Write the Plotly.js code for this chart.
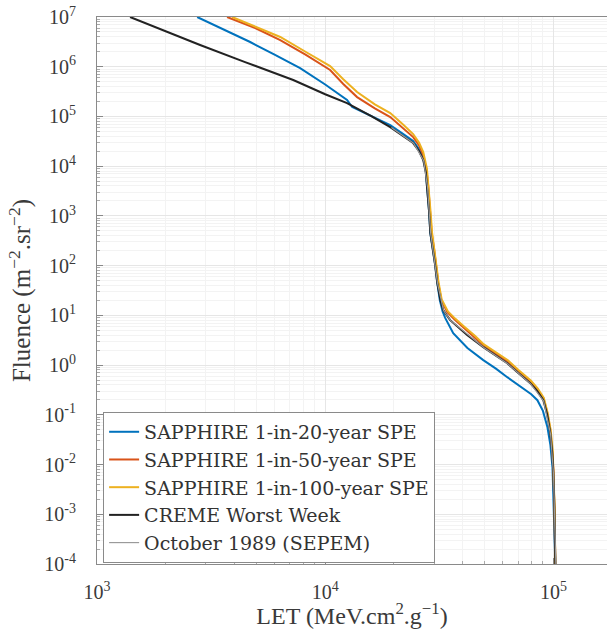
<!DOCTYPE html>
<html>
<head>
<meta charset="utf-8">
<script src="https://cdn.plot.ly/plotly-3.0.1.min.js"></script>
<style>html,body{margin:0;padding:0;background:#fff;overflow:hidden}</style>
</head>
<body>
<div id="chart" style="width:607px;height:629px"></div>
<script>
// ---- data (LET in MeV.cm2/g, Fluence in m^-2.sr^-1) ----
var seriesNames = ["SAPPHIRE 1-in-20-year SPE","SAPPHIRE 1-in-50-year SPE","SAPPHIRE 1-in-100-year SPE","CREME Worst Week","October 1989 (SEPEM)"];

var let20 = [2748, 3600, 4690, 6000, 7766, 10000, 12470, 13130, 16000, 19280, 22000, 24300, 25800, 26900, 27600, 28000, 28500, 28900, 29600, 30300, 31000, 31800, 32700, 33600, 36400, 42000, 49300, 56000, 62800, 72000, 80000, 85100, 90000, 94200, 97000, 99100, 100500, 102000];
var flu20 = [1e7, 5.6e6, 3.14e6, 1.75e6, 9.4e5, 4.4e5, 2.14e5, 1.55e5, 1.0e5, 6.7e4, 4.4e4, 3.2e4, 2.2e4, 1.46e4, 8.0e3, 3.9e3, 1.3e3, 451, 230, 110, 44.5, 20, 12, 8.8, 4.38, 2.2, 1.26, 0.85, 0.571, 0.36, 0.26, 0.197, 0.12, 0.056, 0.025, 8.8e-3, 1.5e-3, 1e-4];

var let50 = [3715, 4935, 6353, 8200, 10510, 12000, 13800, 16500, 19280, 22000, 24300, 25800, 26900, 27800, 28300, 28800, 29300, 30000, 30600, 31300, 32300, 34300, 37000, 40300, 45000, 49300, 56000, 62800, 70000, 79200, 85000, 90400, 94000, 97000, 99000, 100000, 101000, 102000];
var flu50 = [1e7, 6.0e6, 3.44e6, 1.75e6, 8.6e5, 4.5e5, 2.45e5, 1.45e5, 9.7e4, 5.8e4, 3.85e4, 2.6e4, 1.67e4, 8.5e3, 3.9e3, 1.3e3, 451, 220, 100, 44.5, 20, 11.6, 8.2, 5.8, 3.8, 2.51, 1.7, 1.2, 0.78, 0.474, 0.33, 0.216, 0.11, 0.049, 0.018, 7.7e-3, 1.5e-3, 1e-4];

var let100 = [3910, 5000, 6353, 8200, 10510, 12000, 13800, 16500, 19280, 22000, 24300, 25800, 26900, 27900, 28400, 28900, 29400, 30100, 30700, 31400, 32400, 34500, 37200, 40600, 45300, 49600, 56300, 63200, 70300, 79600, 85300, 90800, 94300, 97300, 99300, 100200, 101200, 102000];
var flu100 = [1e7, 6.2e6, 3.96e6, 2.0e6, 1.03e6, 5.6e5, 3.1e5, 1.75e5, 1.17e5, 6.8e4, 4.43e4, 2.95e4, 1.92e4, 9.0e3, 4.0e3, 1.35e3, 460, 225, 102, 46, 21, 12.0, 8.5, 6.0, 3.9, 2.6, 1.75, 1.25, 0.8, 0.49, 0.34, 0.22, 0.112, 0.05, 0.019, 7.9e-3, 1.5e-3, 1e-4];

var letCreme = [1396, 1986, 2830, 4457, 7244, 10000, 12470, 16000, 19280, 22000, 24300, 25800, 26900, 27600, 28000, 28500, 28900, 29600, 30300, 31000, 32000, 32950, 35300, 42000, 49300, 56000, 62800, 70000, 79200, 85000, 90400, 94000, 97000, 99000, 100000, 101000, 102000];
var fluCreme = [1e7, 5.22e6, 2.73e6, 1.24e6, 5.4e5, 2.8e5, 1.86e5, 1.0e5, 6.12e4, 4.0e4, 2.92e4, 2.0e4, 1.33e4, 7.5e3, 3800, 1.3e3, 451, 230, 105, 44.5, 20, 12.7, 8.0, 4.0, 2.29, 1.55, 1.09, 0.7, 0.433, 0.3, 0.197, 0.1, 0.0427, 0.016, 6.7e-3, 1.4e-3, 1e-4];

var letOct = [19500, 24400, 27000, 28100, 29000, 30400, 31100, 33000, 35400, 49500, 63000, 79500, 90600, 97200, 100100, 102500];
var fluOct = [6.0e4, 2.9e4, 1.3e4, 3700, 440, 100, 43, 12.5, 7.9, 2.25, 1.07, 0.42, 0.19, 0.041, 6.5e-3, 1e-4];

var xTickVals = [1e3, 1e4, 1e5];
var xTickText = ["10<sup>3</sup>", "10<sup>4</sup>", "10<sup>5</sup>"];
var yTickVals = [1e-4, 1e-3, 1e-2, 1e-1, 1e0, 1e1, 1e2, 1e3, 1e4, 1e5, 1e6, 1e7];
var yTickText = ["10<sup>-4</sup>","10<sup>-3</sup>","10<sup>-2</sup>","10<sup>-1</sup>","10<sup>0</sup>","10<sup>1</sup>","10<sup>2</sup>","10<sup>3</sup>","10<sup>4</sup>","10<sup>5</sup>","10<sup>6</sup>","10<sup>7</sup>"];

var colors = ["#0072BD", "#D95319", "#EDB120", "#222222", "#9a9a9a"];

var traces = [
  {x: let20, y: flu20, name: seriesNames[0], line: {color: colors[0], width: 2}},
  {x: let50, y: flu50, name: seriesNames[1], line: {color: colors[1], width: 2}},
  {x: let100, y: flu100, name: seriesNames[2], line: {color: colors[2], width: 2}},
  {x: letCreme, y: fluCreme, name: seriesNames[3], line: {color: colors[3], width: 2}},
  {x: letOct, y: fluOct, name: seriesNames[4], line: {color: colors[4], width: 1.2}}
].map(function(t){ t.type = "scatter"; t.mode = "lines"; return t; });

var serif = "Liberation Serif";
var legendFont = "DejaVu Serif";
var layout = {
  width: 607, height: 629,
  margin: {l: 97, r: 0, t: 17, b: 65},
  paper_bgcolor: "#ffffff", plot_bgcolor: "#ffffff",
  font: {family: serif, size: 18, color: "#3a3a3a"},
  showlegend: true,
  legend: {
    x: 0.012, y: 0.278, xanchor: "left", yanchor: "top",
    bgcolor: "#ffffff", bordercolor: "#8a8a8a", borderwidth: 1,
    font: {family: legendFont, size: 19, color: "#333333"},
    tracegroupgap: 0, itemwidth: 30
  },
  xaxis: {
    type: "log", range: [3, 5.235],
    tickvals: xTickVals, ticktext: xTickText,
    ticks: "inside", ticklen: 6, tickcolor: "#888888",
    showline: true, linecolor: "#8a8a8a", linewidth: 1, mirror: true,
    showgrid: true, gridcolor: "#e6e6e6", gridwidth: 1,
    minor: {dtick: "D1", ticks: "inside", ticklen: 3, tickcolor: "#aaaaaa", showgrid: true, gridcolor: "#f3f3f3"},
    zeroline: false,
    ticklabelstandoff: 10,
    tickfont: {family: serif, size: 20, color: "#3a3a3a"},
    title: {text: "LET (MeV.cm<sup>2</sup>.g<sup>−1</sup>)", font: {family: serif, size: 24, color: "#3a3a3a"}, standoff: 4}
  },
  yaxis: {
    type: "log", range: [-4, 7],
    tickvals: yTickVals, ticktext: yTickText,
    ticks: "inside", ticklen: 6, tickcolor: "#888888",
    showline: true, linecolor: "#8a8a8a", linewidth: 1, mirror: false,
    showgrid: true, gridcolor: "#e6e6e6", gridwidth: 1,
    minor: {dtick: "D1", ticks: "inside", ticklen: 3, tickcolor: "#aaaaaa", showgrid: true, gridcolor: "#f3f3f3"},
    zeroline: false,
    ticklabelstandoff: 16,
    tickfont: {family: serif, size: 20, color: "#3a3a3a"},
    title: {text: "Fluence (m<sup>−2</sup>.sr<sup>−2</sup>)", font: {family: serif, size: 25, color: "#3a3a3a"}, standoff: 6}
  }
};

Plotly.newPlot("chart", traces, layout, {displayModeBar: false, staticPlot: true});
</script>
</body>
</html>
